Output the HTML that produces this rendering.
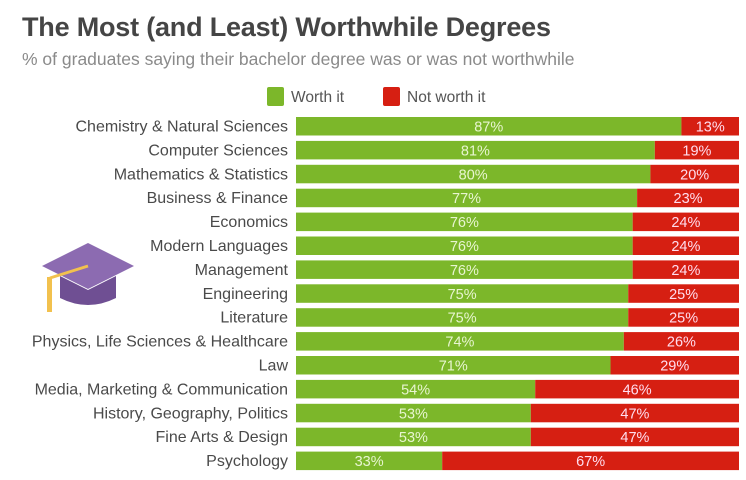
<!DOCTYPE html>
<html><head><meta charset="utf-8"><style>
body{margin:0;background:#fff;}
#c{position:relative;width:746px;height:480px;font-family:"Liberation Sans",sans-serif;overflow:hidden;background:#fff;}
.t{position:absolute;left:22px;top:12px;font-size:27px;font-weight:bold;color:#454545;letter-spacing:-0.2px;}
.s{position:absolute;left:22px;top:49px;font-size:17.5px;color:#8a8a8a;}
</style></head><body>
<div id="c">
<div class="t">The Most (and Least) Worthwhile Degrees</div>
<div class="s">% of graduates saying their bachelor degree was or was not worthwhile</div>
<svg id="svg" width="746" height="480" style="position:absolute;left:0;top:0">
<g>
<rect x="267" y="87" width="17" height="19" rx="2" fill="#7cb72a"/>
<text x="291" y="102" font-size="15.5" fill="#555" font-family="Liberation Sans">Worth it</text>
<rect x="383" y="87" width="17" height="19" rx="2" fill="#d61f12"/>
<text x="407" y="102" font-size="15.5" fill="#555" font-family="Liberation Sans">Not worth it</text>
</g>
<g>
<path d="M42 266 L88 243 L134 266 L88 289 Z" fill="#8c6bb1"/>
<path d="M60 276 L60 298 Q88 312 116 298 L116 276 L88 290 Z" fill="#6f4f93"/>
<line x1="88" y1="266" x2="50" y2="278" stroke="#f2c14e" stroke-width="3"/>
<rect x="47" y="277" width="5" height="35" fill="#f2c14e"/>
</g>
<g id="bars"></g>
</svg>
</div>
<script>
const categories=["Chemistry & Natural Sciences","Computer Sciences","Mathematics & Statistics","Business & Finance","Economics","Modern Languages","Management","Engineering","Literature","Physics, Life Sciences & Healthcare","Law","Media, Marketing & Communication","History, Geography, Politics","Fine Arts & Design","Psychology"];
const worth=[87,81,80,77,76,76,76,75,75,74,71,54,53,53,33];
const notWorth=[13,19,20,23,24,24,24,25,25,26,29,46,47,47,67];
const x0=296,x1=739,y0=117,step=23.9,bh=18.5;
const xs=v=>x0+(x1-x0)*v/100;
const g=document.getElementById('bars');const ns='http://www.w3.org/2000/svg';
function mk(t,a){const e=document.createElementNS(ns,t);for(const k in a)e.setAttribute(k,a[k]);g.appendChild(e);return e;}
categories.forEach((c,i)=>{
 const y=y0+i*step;
 let l=mk('text',{x:288,y:y+14.5,'text-anchor':'end','font-size':16,fill:'#4a4a4a','font-family':'Liberation Sans'});l.textContent=c;
 
 
 const w=xs(worth[i]);
 let r=mk('rect',{x:x0,y:y,width:w-x0,height:bh,fill:'#7cb72a'});
 
 
 let r2=mk('rect',{x:w,y:y,width:xs(worth[i]+notWorth[i])-w,height:bh,fill:'#d61f12'});
 
 
 let t1=mk('text',{x:(x0+w)/2,y:y+14.5,'text-anchor':'middle','font-size':14.5,fill:'#e8f5d0','font-family':'Liberation Sans'});t1.textContent=worth[i]+'%';
 
 
 let t2=mk('text',{x:(w+xs(worth[i]+notWorth[i]))/2,y:y+14.5,'text-anchor':'middle','font-size':14.5,fill:'#fde','font-family':'Liberation Sans'});t2.textContent=notWorth[i]+'%';
 
 
});
</script>
</body></html>
